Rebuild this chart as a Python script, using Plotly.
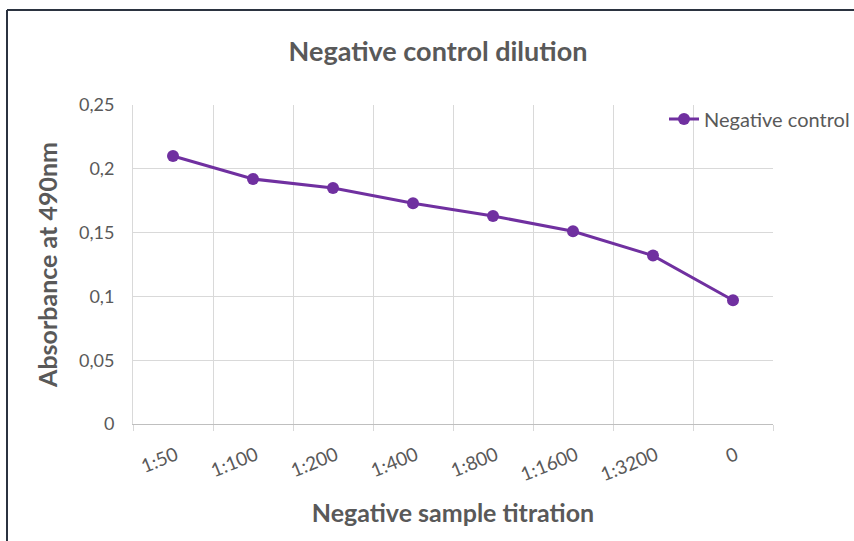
import plotly.graph_objects as go

categories = ["1:50", "1:100", "1:200", "1:400", "1:800", "1:1600", "1:3200", "0"]
values = [0.210, 0.192, 0.185, 0.173, 0.163, 0.151, 0.132, 0.097]
series_name = "Negative control"
y_tickvals = [0, 0.05, 0.1, 0.15, 0.2, 0.25]
y_ticktext = ["0", "0,05", "0,1", "0,15", "0,2", "0,25"]

FONT = "Lato, Open Sans, sans-serif"
GRAY = "#595959"
GRID = "#d9d9d9"
PURPLE = "#7030A0"

fig = go.Figure()
fig.add_trace(go.Scatter(
    x=categories, y=values, name=series_name, mode="lines+markers",
    line=dict(color=PURPLE, width=3),
    marker=dict(color=PURPLE, size=12),
))

W, H = 854, 541
L, R, T, B = 133, 81, 105, 117
pw, ph = W - L - R, H - T - B

def px_x(p):
    return (p - L) / pw

def px_y(p):
    return (H - B - p) / ph

fig.update_layout(
    width=W, height=H,
    margin=dict(l=L, r=R, t=T, b=B, autoexpand=False),
    paper_bgcolor="white", plot_bgcolor="white",
    font=dict(family=FONT, color=GRAY, size=17),
    title=dict(text="<b>Negative control dilution</b>", x=px_x(438), xref="paper",
               xanchor="center", y=1 - 52 / H, yanchor="middle",
               font=dict(size=27, color=GRAY, family=FONT)),
    showlegend=True,
    legend=dict(x=px_x(664), y=px_y(119), xanchor="left", yanchor="middle",
                font=dict(size=20, color=GRAY, family=FONT),
                bgcolor="rgba(0,0,0,0)"),
    xaxis=dict(
        type="category", range=[-0.5, 7.5], tickson="boundaries",
        showgrid=True, gridcolor=GRID, gridwidth=1,
        showline=True, linecolor="#bfbfbf", linewidth=1,
        ticks="outside", ticklen=6, tickcolor=GRID,
        tickangle=-22, ticklabelstandoff=12, ticklabelshift=3,
        tickfont=dict(size=19, color=GRAY, family=FONT),
        title=dict(text="<b>Negative sample titration</b>", standoff=20,
                   font=dict(size=25, color=GRAY, family=FONT)),
        zeroline=False, fixedrange=True,
    ),
    yaxis=dict(
        range=[0, 0.25], tickvals=y_tickvals, ticktext=y_ticktext,
        showgrid=True, gridcolor=GRID, gridwidth=1,
        showline=True, linecolor=GRID, linewidth=1,
        ticks="", ticklabelstandoff=14,
        tickfont=dict(size=18, color=GRAY, family=FONT),
        title=dict(text="<b>Absorbance at 490nm</b>", standoff=14,
                   font=dict(size=25, color=GRAY, family=FONT)),
        zeroline=False, fixedrange=True,
    ),
)

# outer chart frame (top and left edges visible)
fig.add_shape(type="line", xref="paper", yref="paper",
              x0=px_x(7), x1=px_x(860), y0=px_y(10), y1=px_y(10),
              line=dict(color="#2b3340", width=2))
fig.add_shape(type="line", xref="paper", yref="paper",
              x0=px_x(7), x1=px_x(7), y0=px_y(10), y1=px_y(545),
              line=dict(color="#2b3340", width=2))

fig.write_html("out.html")
